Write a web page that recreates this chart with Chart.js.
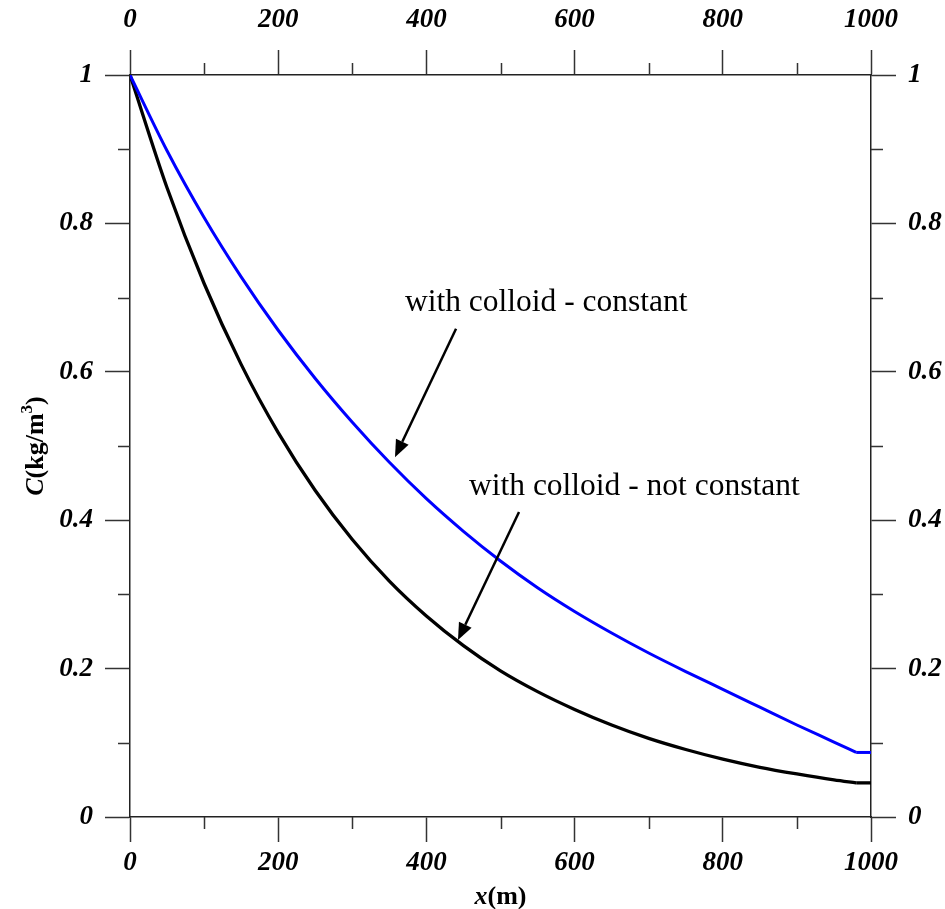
<!DOCTYPE html>
<html>
<head>
<meta charset="utf-8">
<script src="https://cdn.jsdelivr.net/npm/chart.js@4"></script>
<style>
  html, body { margin: 0; padding: 0; background: #fff; }
  #wrap { width: 945px; height: 909px; }
</style>
</head>
<body>
<div id="wrap"><canvas id="conc"></canvas></div>
<script>
// distance x (m)
const xDist = [0, 50, 100, 150, 200, 250, 300, 350, 400, 450, 500, 550, 600, 650, 700, 750, 800, 850, 900, 950, 980];
// C (kg/m3), colloid parameters constant
const cConstant = [1.000, 0.898, 0.808, 0.728, 0.656, 0.591, 0.532, 0.478, 0.429, 0.385, 0.345, 0.309, 0.277, 0.248, 0.221, 0.196, 0.172, 0.148, 0.124, 0.101, 0.087];
// C (kg/m3), colloid parameters not constant
const cNotConstant = [1.000, 0.848, 0.719, 0.610, 0.518, 0.440, 0.374, 0.318, 0.271, 0.231, 0.197, 0.169, 0.145, 0.124, 0.106, 0.091, 0.078, 0.067, 0.058, 0.050, 0.046];
// last flat stretch up to the outlet
const xEnd = [980, 1000];
const cConstantEnd = [0.087, 0.087];
const cNotConstantEnd = [0.046, 0.046];

// minor tick positions
const xMinor = [100, 300, 500, 700, 900];
const yMinor = [0.1, 0.3, 0.5, 0.7, 0.9];

const SERIF = '"Liberation Serif", "Times New Roman", serif';
const tickFont = { family: SERIF, size: 27, style: 'italic', weight: 'bold', lineHeight: 1 };

const pts = (xs, ys) => xs.map((x, i) => ({ x, y: ys[i] }));

function axisGrid() {
  return { drawOnChartArea: false, drawTicks: true, tickLength: 25, tickColor: '#333', tickWidth: 1.5 };
}
const axisBorder = { display: true, color: '#222', width: 1.5 };

const xTicks = (pad) => ({ stepSize: 200, autoSkip: false, maxRotation: 0, padding: pad, color: '#000', font: tickFont, callback: v => String(v) });
const yTicks = (pad) => ({ stepSize: 0.2, autoSkip: false, padding: pad, color: '#000', font: tickFont, callback: v => String(+v.toFixed(1)) });

// annotations: text anchor and arrow in data units
const notes = [
  { text: 'with colloid - constant', x: 371, y: 0.682, from: [440, 0.658], to: [357.6, 0.485] },
  { text: 'with colloid - not constant', x: 457.5, y: 0.434, from: [525, 0.411], to: [442.6, 0.2385] }
];

const decor = {
  id: 'decor',
  afterDraw(chart) {
    const { ctx, chartArea: a } = chart;
    const sx = chart.scales.x, sy = chart.scales.y;
    ctx.save();

    // minor ticks on all four sides
    ctx.strokeStyle = '#333';
    ctx.lineWidth = 1.5;
    ctx.beginPath();
    xMinor.forEach(v => {
      const px = Math.round(sx.getPixelForValue(v)) + 0.5;
      ctx.moveTo(px, a.bottom); ctx.lineTo(px, a.bottom + 12);
      ctx.moveTo(px, a.top); ctx.lineTo(px, a.top - 12);
    });
    yMinor.forEach(v => {
      const py = Math.round(sy.getPixelForValue(v)) + 0.5;
      ctx.moveTo(a.left, py); ctx.lineTo(a.left - 12, py);
      ctx.moveTo(a.right, py); ctx.lineTo(a.right + 12, py);
    });
    ctx.stroke();

    // x title: x(m)
    ctx.fillStyle = '#000';
    ctx.textBaseline = 'alphabetic';
    ctx.textAlign = 'left';
    const fIt = 'italic bold 26px ' + SERIF, fB = 'bold 26px ' + SERIF, fSup = 'bold 17px ' + SERIF;
    ctx.font = fIt; const wx = ctx.measureText('x').width;
    ctx.font = fB; const wm = ctx.measureText('(m)').width;
    let tx = (a.left + a.right) / 2 - (wx + wm) / 2;
    ctx.font = fIt; ctx.fillText('x', tx, 904);
    ctx.font = fB; ctx.fillText('(m)', tx + wx, 904);

    // y title: C(kg/m3)
    ctx.save();
    ctx.translate(43, 446);
    ctx.rotate(-Math.PI / 2);
    ctx.font = fIt; const wc = ctx.measureText('C').width;
    ctx.font = fB; const wk = ctx.measureText('(kg/m').width, wp = ctx.measureText(')').width;
    ctx.font = fSup; const w3 = ctx.measureText('3').width;
    let ty = -(wc + wk + w3 + wp) / 2;
    ctx.font = fIt; ctx.fillText('C', ty, 0); ty += wc;
    ctx.font = fB; ctx.fillText('(kg/m', ty, 0); ty += wk;
    ctx.font = fSup; ctx.fillText('3', ty, -11); ty += w3;
    ctx.font = fB; ctx.fillText(')', ty, 0);
    ctx.restore();

    // labelled arrows
    ctx.font = '31.5px ' + SERIF;
    ctx.lineWidth = 2.5;
    ctx.strokeStyle = '#000';
    notes.forEach(n => {
      ctx.fillText(n.text, sx.getPixelForValue(n.x), sy.getPixelForValue(n.y));
      const x0 = sx.getPixelForValue(n.from[0]), y0 = sy.getPixelForValue(n.from[1]);
      const x1 = sx.getPixelForValue(n.to[0]), y1 = sy.getPixelForValue(n.to[1]);
      const ang = Math.atan2(y1 - y0, x1 - x0), hl = 17, hw = 7;
      const bx = x1 - hl * Math.cos(ang), by = y1 - hl * Math.sin(ang);
      ctx.beginPath(); ctx.moveTo(x0, y0); ctx.lineTo(bx, by); ctx.stroke();
      ctx.beginPath();
      ctx.moveTo(x1, y1);
      ctx.lineTo(bx + hw * Math.sin(ang), by - hw * Math.cos(ang));
      ctx.lineTo(bx - hw * Math.sin(ang), by + hw * Math.cos(ang));
      ctx.closePath(); ctx.fill();
    });
    ctx.restore();
  }
};

const line = (data, color, width, smooth) => ({
  data, borderColor: color, borderWidth: width, pointRadius: 0, fill: false,
  cubicInterpolationMode: smooth ? 'monotone' : 'default', tension: 0,
  xAxisID: 'x', yAxisID: 'y'
});

new Chart(document.getElementById('conc'), {
  type: 'line',
  data: {
    datasets: [
      line(pts(xDist, cConstant), '#0000ff', 3, true),
      line(pts(xEnd, cConstantEnd), '#0000ff', 3, false),
      line(pts(xDist, cNotConstant), '#000000', 3.3, true),
      line(pts(xEnd, cNotConstantEnd), '#000000', 3.3, false)
    ]
  },
  options: {
    responsive: true,
    maintainAspectRatio: false,
    animation: false,
    devicePixelRatio: 1,
    layout: { padding: 0 },
    plugins: { legend: { display: false }, tooltip: { enabled: false } },
    scales: {
      x: { type: 'linear', position: 'bottom', min: 0, max: 1000, grid: axisGrid(), border: axisBorder, ticks: xTicks(8),
           afterFit: s => { s.height = 92; } },
      x2: { type: 'linear', position: 'top', min: 0, max: 1000, grid: axisGrid(), border: axisBorder, ticks: xTicks(16),
            afterFit: s => { s.height = 75; } },
      y: { type: 'linear', position: 'left', min: 0, max: 1, grid: axisGrid(), border: axisBorder, ticks: yTicks(12),
           afterFit: s => { s.width = 130; } },
      y2: { type: 'linear', position: 'right', min: 0, max: 1, grid: axisGrid(), border: axisBorder, ticks: yTicks(12),
            afterFit: s => { s.width = 74; } }
    }
  },
  plugins: [decor]
});
</script>
</body>
</html>
